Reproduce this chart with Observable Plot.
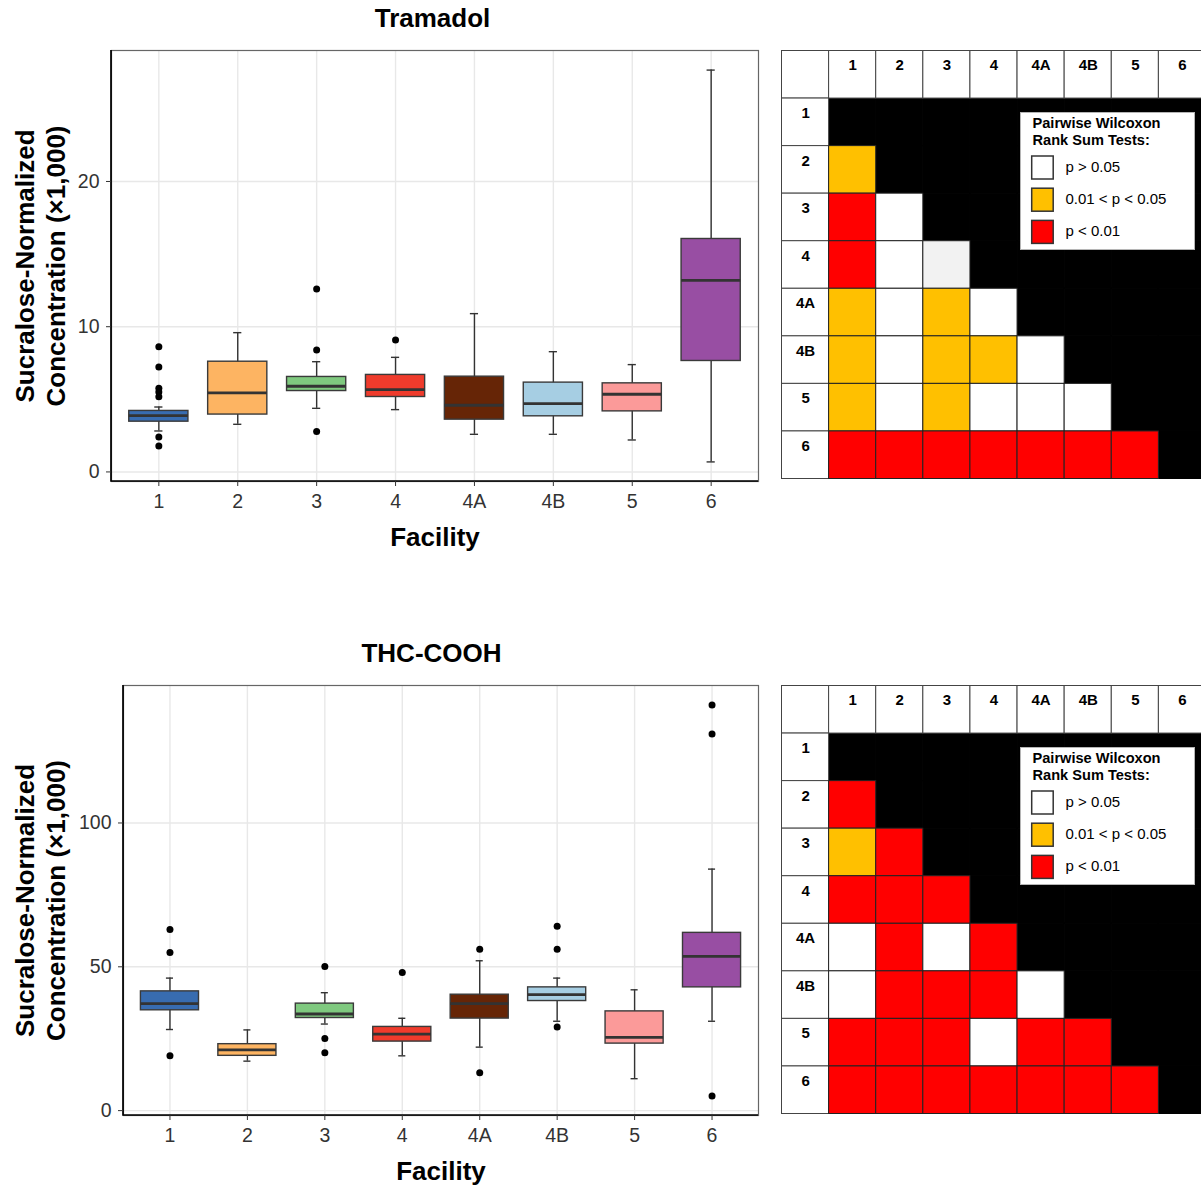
<!DOCTYPE html>
<html>
<head>
<meta charset="utf-8">
<script src="https://cdn.jsdelivr.net/npm/d3@7"></script>
<script src="https://cdn.jsdelivr.net/npm/@observablehq/plot@0.6"></script>
<style>
  html, body { margin: 0; padding: 0; background: #fff; overflow: hidden; }
  #page { position: relative; width: 1201px; height: 1189px; overflow: hidden; background: #fff;
          font-family: "Liberation Sans", Arial, Helvetica, sans-serif; }
  .panel { position: absolute; line-height: 0; }
  .panel svg { display: block; }
</style>
</head>
<body>
<div id="page"></div>
<script>
// Facilities and their fill colours
const facilities = ["1", "2", "3", "4", "4A", "4B", "5", "6"];
const facilityColors = ["#386cb0", "#fdb462", "#7fc97f", "#ef3b2c", "#662506", "#a6cee3", "#fb9a99", "#984ea3"];

// Tramadol, sucralose-normalized concentration (×1,000): box summaries per facility
const tramadolLow    = [2.82, 3.28, 4.38, 4.29, 2.59, 2.59, 2.20, 0.69];
const tramadolQ1     = [3.46, 3.95, 5.57, 5.16, 3.60, 3.83, 4.17, 7.64];
const tramadolMedian = [3.88, 5.44, 5.90, 5.67, 4.59, 4.70, 5.35, 13.19];
const tramadolQ3     = [4.20, 7.59, 6.54, 6.68, 6.56, 6.15, 6.10, 16.04];
const tramadolHigh   = [4.47, 9.59, 7.59, 7.89, 10.90, 8.28, 7.39, 27.67];
const tramadolOutlierFacility = ["1", "1", "1", "1", "1", "1", "1", "3", "3", "3", "4"];
const tramadolOutlierValue    = [8.62, 7.23, 5.76, 5.50, 5.18, 2.41, 1.79, 12.60, 8.40, 2.78, 9.08];
const tramadolTicks = [0, 10, 20];

// THC-COOH, sucralose-normalized concentration (×1,000)
const thcLow    = [28.20, 17.20, 30.10, 19.05, 22.07, 31.07, 11.10, 31.07];
const thcQ1     = [34.88, 19.05, 32.20, 24.00, 32.00, 38.10, 23.30, 42.85];
const thcMedian = [37.20, 21.10, 33.60, 26.60, 37.20, 40.30, 25.50, 53.60];
const thcQ3     = [41.46, 23.10, 37.20, 29.10, 40.30, 42.85, 34.50, 61.80];
const thcHigh   = [46.07, 28.06, 41.00, 32.10, 52.10, 46.07, 42.00, 83.96];
const thcOutlierFacility = ["1", "1", "1", "3", "3", "3", "4", "4A", "4A", "4B", "4B", "4B", "6", "6", "6"];
const thcOutlierValue    = [63.0, 55.0, 19.05, 50.1, 25.1, 20.1, 48.0, 56.1, 13.2, 64.1, 56.1, 29.1, 141.0, 130.9, 5.1];
const thcTicks = [0, 50, 100];

// Pairwise Wilcoxon rank sum results, lower triangle (row facility vs. earlier column facilities)
// ns: p > 0.05, mid: 0.01 < p < 0.05, sig: p < 0.01, nsShade: p > 0.05 (shaded cell)
const tramadolTests = [
  [],
  ["mid"],
  ["sig", "ns"],
  ["sig", "ns", "nsShade"],
  ["mid", "ns", "mid", "ns"],
  ["mid", "ns", "mid", "mid", "ns"],
  ["mid", "ns", "mid", "ns", "ns", "ns"],
  ["sig", "sig", "sig", "sig", "sig", "sig", "sig"]
];
const thcTests = [
  [],
  ["sig"],
  ["mid", "sig"],
  ["sig", "sig", "sig"],
  ["ns", "sig", "ns", "sig"],
  ["ns", "sig", "sig", "sig", "ns"],
  ["sig", "sig", "sig", "ns", "sig", "sig"],
  ["sig", "sig", "sig", "sig", "sig", "sig", "sig"]
];
const testLevels = ["ns", "mid", "sig", "nsShade"];
const testColors = ["#ffffff", "#ffc000", "#ff0000", "#f2f2f2"];
const legendLabels = ["p > 0.05", "0.01 < p < 0.05", "p < 0.01"];

const FONT = "'Liberation Sans', Arial, Helvetica, sans-serif";
const page = document.getElementById("page");

function place(node, left, top) {
  const div = document.createElement("div");
  div.className = "panel";
  div.style.left = left + "px";
  div.style.top = top + "px";
  div.appendChild(node);
  page.appendChild(div);
  return div;
}

function boxChart({title, low, q1, median, q3, high, outFacility, outValue, ticks,
                   marginLeft, marginBottom, titleDx}) {
  const boxes = facilities.map((f, i) => ({
    facility: f, low: low[i], q1: q1[i], median: median[i], q3: q3[i], high: high[i]
  }));
  const outliers = outFacility.map((f, i) => ({facility: f, value: outValue[i]}));
  const all = [...low, ...high, ...outValue];
  const lo = d3.min(all), hi = d3.max(all), pad = (hi - lo) * 0.05;

  // black axis lines along the left and bottom of the panel
  const axisLines = (index, scales, values, dims) => {
    const g = d3.create("svg:g");
    g.append("path")
      .attr("d", `M${dims.marginLeft},${dims.marginTop}V${dims.height - dims.marginBottom}H${dims.width - dims.marginRight}`)
      .attr("fill", "none").attr("stroke", "#000").attr("stroke-width", 1.7);
    return g.node();
  };

  return Plot.plot({
    width: 770, height: 560,
    marginLeft, marginRight: 12, marginTop: 50, marginBottom,
    style: {fontFamily: FONT, fontSize: "19px", color: "#333", background: "white", maxWidth: "none", overflow: "visible"},
    x: {domain: facilities, paddingInner: 0.25, paddingOuter: 0.225, align: 0.5, round: false},
    y: {domain: [lo - pad, hi + pad]},
    color: {domain: facilities, range: facilityColors},
    marks: [
      Plot.gridY(ticks, {stroke: "#e8e8e8", strokeOpacity: 1, strokeWidth: 1.4}),
      Plot.gridX({stroke: "#e8e8e8", strokeOpacity: 1, strokeWidth: 1.4}),
      Plot.frame({stroke: "#666", strokeWidth: 1.2}),
      axisLines,
      Plot.axisY(ticks, {tickSize: 5, tickPadding: 7, fontSize: 19.5, label: null, color: "#333"}),
      Plot.axisX({tickSize: 5, tickPadding: 8, fontSize: 19.5, label: null, color: "#333"}),
      // whiskers with end caps
      Plot.ruleX(boxes, {x: "facility", y1: "low", y2: "high", stroke: "#333", strokeWidth: 1.4}),
      Plot.tickY(boxes, {x: "facility", y: "low", insetLeft: 25.5, insetRight: 25.5, stroke: "#333", strokeWidth: 1.4}),
      Plot.tickY(boxes, {x: "facility", y: "high", insetLeft: 25.5, insetRight: 25.5, stroke: "#333", strokeWidth: 1.4}),
      // interquartile boxes and medians
      Plot.barY(boxes, {x: "facility", y1: "q1", y2: "q3", fill: "facility", stroke: "#3a3a3a", strokeWidth: 1.4}),
      Plot.tickY(boxes, {x: "facility", y: "median", stroke: "#333", strokeWidth: 2.8}),
      Plot.dot(outliers, {x: "facility", y: "value", r: 3.5, fill: "#000", stroke: "none"}),
      // titles
      Plot.text([title], {text: d => d, frameAnchor: "top", dy: -32, dx: titleDx, lineAnchor: "middle",
                          fontSize: 26, fontWeight: "bold", fill: "#000"}),
      Plot.text(["Sucralose-Normalized\nConcentration (×1,000)"], {text: d => d, frameAnchor: "left",
                          dx: 39.5 - marginLeft, rotate: -90, textAnchor: "middle", lineAnchor: "middle",
                          lineHeight: 1.19, fontSize: 26, fontWeight: "bold", fill: "#000"}),
      Plot.text(["Facility"], {text: d => d, frameAnchor: "bottom", dy: 56, lineAnchor: "middle",
                          fontSize: 26, fontWeight: "bold", fill: "#000"})
    ]
  });
}

function matrixChart(tests) {
  const rowsDomain = ["", ...facilities];
  const colsDomain = ["", ...facilities];
  const headers = [];
  colsDomain.forEach(c => headers.push({row: "", col: c, label: c}));
  facilities.forEach(r => headers.push({row: r, col: "", label: r}));
  const upper = [];
  const lower = [];
  facilities.forEach((r, i) => {
    facilities.forEach((c, j) => {
      if (j >= i) upper.push({row: r, col: c});
      else lower.push({row: r, col: c, level: tests[i][j]});
    });
  });
  return Plot.plot({
    width: 425, height: 429,
    marginLeft: 0, marginRight: 0, marginTop: 0, marginBottom: 0,
    style: {fontFamily: FONT, background: "white", maxWidth: "none", overflow: "visible"},
    x: {domain: colsDomain, range: [0.5, 424.5], padding: 0, round: false, axis: null},
    y: {domain: rowsDomain, range: [0.5, 428.5], padding: 0, round: false, axis: null},
    color: {domain: testLevels, range: testColors},
    marks: [
      Plot.cell(upper, {x: "col", y: "row", fill: "#000", stroke: "#000"}),
      Plot.cell(headers, {x: "col", y: "row", fill: "#fff", stroke: "#444", strokeWidth: 1}),
      Plot.cell(lower, {x: "col", y: "row", fill: "level", stroke: "#222", strokeWidth: 1}),
      Plot.text(headers, {x: "col", y: "row", text: "label", dy: -15, lineAnchor: "top",
                          fontSize: 15, fontWeight: "bold", fill: "#000"})
    ]
  });
}

function testLegend() {
  const svg = d3.create("svg").attr("width", 176).attr("height", 140)
    .style("font-family", FONT).style("display", "block");
  svg.append("rect").attr("x", 0.5).attr("y", 0.5).attr("width", 174).attr("height", 137)
    .attr("fill", "#fff").attr("stroke", "#b5b5b5");
  svg.append("text").attr("x", 12.5).attr("y", 15.6).attr("font-size", 14.6).attr("font-weight", "bold")
    .text("Pairwise Wilcoxon");
  svg.append("text").attr("x", 12.5).attr("y", 33.3).attr("font-size", 14.6).attr("font-weight", "bold")
    .text("Rank Sum Tests:");
  legendLabels.forEach((lab, i) => {
    const top = 44 + i * 32.2;
    svg.append("rect").attr("x", 11.7).attr("y", top).attr("width", 21.5).attr("height", 23)
      .attr("fill", testColors[i]).attr("stroke", "#333").attr("stroke-width", 1.5);
    svg.append("text").attr("x", 45.5).attr("y", top + 15.5).attr("font-size", 15).text(lab);
  });
  return svg.node();
}

// Tramadol row
place(boxChart({
  title: "Tramadol", low: tramadolLow, q1: tramadolQ1, median: tramadolMedian, q3: tramadolQ3,
  high: tramadolHigh, outFacility: tramadolOutlierFacility, outValue: tramadolOutlierValue,
  ticks: tramadolTicks, marginLeft: 111, marginBottom: 79, titleDx: -2.5
}), 0, 0);
const m1 = place(matrixChart(tramadolTests), 781, 50);
m1.style.width = "420px"; m1.style.height = "430px"; m1.style.overflow = "hidden";
place(testLegend(), 1020, 112);

// THC-COOH row
place(boxChart({
  title: "THC-COOH", low: thcLow, q1: thcQ1, median: thcMedian, q3: thcQ3,
  high: thcHigh, outFacility: thcOutlierFacility, outValue: thcOutlierValue,
  ticks: thcTicks, marginLeft: 123, marginBottom: 80, titleDx: -9.5
}), 0, 635);
const m2 = place(matrixChart(thcTests), 781, 685);
m2.style.width = "420px"; m2.style.height = "430px"; m2.style.overflow = "hidden";
place(testLegend(), 1020, 747);
</script>
</body>
</html>
